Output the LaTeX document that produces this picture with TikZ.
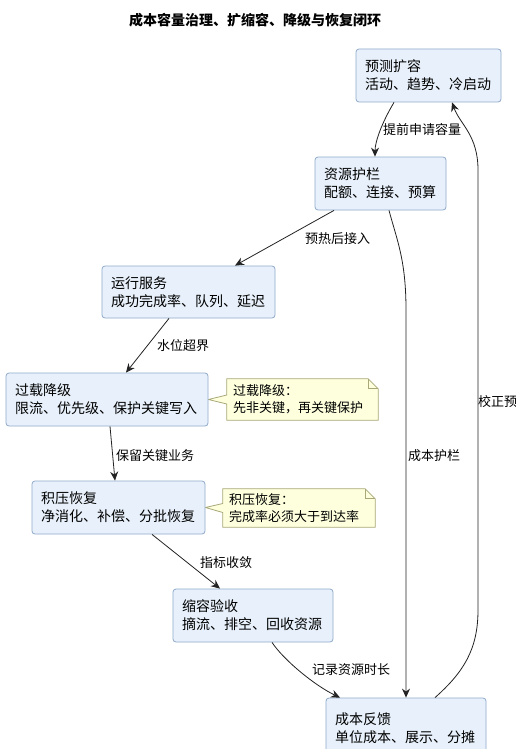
\documentclass[tikz,border=0pt]{standalone}
\usepackage{fontspec}
\setmainfont{Noto Sans CJK SC}
\usetikzlibrary{arrows.meta,calc,backgrounds}
\definecolor{boxfill}{HTML}{E8F1FB}
\definecolor{boxline}{HTML}{8FA9C9}
\definecolor{notefill}{HTML}{FEFFDD}
\definecolor{noteline}{HTML}{A8A878}
\definecolor{edgecol}{HTML}{222222}
\begin{document}
\begin{tikzpicture}[x=1pt,y=-1pt,
  box/.style={draw=boxline, fill=boxfill, rounded corners=3pt, line width=0.8pt,
    inner xsep=9pt, inner ysep=0pt, align=left, font=\fontsize{14}{18}\selectfont},
  notetext/.style={inner xsep=6pt, inner ysep=0pt, align=left, font=\fontsize{13}{17}\selectfont},
  noteshape/.style={draw=noteline, fill=notefill, line width=0.8pt},
  foldline/.style={draw=noteline, line width=0.8pt},
  elabel/.style={inner sep=0pt, anchor=west, font=\fontsize{13}{16}\selectfont},
  arr/.style={draw=edgecol, line width=0.8pt, -{Stealth[length=9pt,width=8pt,inset=3pt]}}
]
\useasboundingbox (0,0) rectangle (516,749);
\clip (0,0) rectangle (516,749);

\node[font=\bfseries\fontsize{14}{16}\selectfont, inner sep=0pt] (title) at (255,20) {成本容量治理、扩缩容、降级与恢复闭环};

\node[box, minimum width=145pt, minimum height=53pt, text width=127pt] (predict) at (428.5,75.5) {预测扩容\\活动、趋势、冷启动};
\node[box, minimum width=131pt, minimum height=53pt, text width=113pt] (guard) at (380.5,183.5) {资源护栏\\配额、连接、预算};
\node[box, minimum width=173pt, minimum height=52pt, text width=155pt] (run) at (188.5,292) {运行服务\\成功完成率、队列、延迟};
\node[box, minimum width=202pt, minimum height=53pt, text width=184pt] (degrade) at (107,399.5) {过载降级\\限流、优先级、保护关键写入};
\node[box, minimum width=173pt, minimum height=53pt, text width=155pt] (backlog) at (118.5,507.5) {积压恢复\\净消化、补偿、分批恢复};
\node[box, minimum width=160pt, minimum height=53pt, text width=142pt] (shrink) at (253,615.5) {缩容验收\\摘流、排空、回收资源};
\node[box, minimum width=160pt, minimum height=60pt, text width=142pt] (cost) at (406,728) {成本反馈\\单位成本、展示、分摊};

% notes
\node[notetext, minimum height=41pt, text width=139pt] (note1) at (302.5,399.5) {过载降级：\\先非关键，再关键保护};
\node[notetext, minimum height=38pt, text width=140pt] (note2) at (299,508) {积压恢复：\\完成率必须大于到达率};
\begin{scope}[on background layer]
\draw[noteshape] (note1.north west) -- ($(note1.north east)+(-10,0)$) -- ($(note1.north east)+(0,10)$)
  -- (note1.south east) -- (note1.south west) -- ($(note1.west)+(0,4.5)$) -- (degrade.east)
  -- ($(note1.west)+(0,-4.5)$) -- cycle;
\draw[noteshape] (note2.north west) -- ($(note2.north east)+(-10,0)$) -- ($(note2.north east)+(0,10)$)
  -- (note2.south east) -- (note2.south west) -- ($(note2.west)+(0,4.5)$) -- (backlog.east)
  -- ($(note2.west)+(0,-4.5)$) -- cycle;
\end{scope}
\draw[foldline] ($(note1.north east)+(-10,0)$) -- ($(note1.north east)+(-10,10)$) -- ($(note1.north east)+(0,10)$);
\draw[foldline] ($(note2.north east)+(-10,0)$) -- ($(note2.north east)+(-10,10)$) -- ($(note2.north east)+(0,10)$);

% helper coordinates
\coordinate (c1) at (478,610);
\coordinate (c2) at (478,170);
\coordinate (c3) at (406,310);

% edges
\draw[arr] ($(predict.south)+(-34.5,0)$) .. controls +(-12,20) and +(0,-15) .. ($(guard.north)+(-5.5,0)$);
\node[elabel] (l1) at (383,130) {提前申请容量};

\draw[arr] ($(guard.south)+(-46.5,0)$) -- ($(run.north)+(46.5,0)$);
\node[elabel] (l2) at (305,239) {预热后接入};

\draw[arr] ($(run.south)+(-19.5,0)$) -- ($(degrade.north)+(19,0)$);
\node[elabel] (l3) at (157,346) {水位超界};

\draw[arr] ($(degrade.south)+(3,0)$) -- ($(backlog.north)+(-3.5,0)$);
\node[elabel] (l4) at (116,456) {保留关键业务};

\draw[arr] ($(backlog.south)+(33.5,0)$) -- ($(shrink.north)+(-33,0)$);
\node[elabel] (l5) at (200,563) {指标收敛};

\draw[arr] ($(shrink.south)+(19,0)$) .. controls +(12,18) and +(-25,-12) .. ($(cost.north)+(-66,0)$);
\node[elabel] (l6) at (312,670) {记录资源时长};

\draw[arr] ($(guard.south)+(8.5,0)$) .. controls +(8,30) and +(0,-50) .. (c3) -- (cost.north);
\node[elabel] (l7) at (408,456) {成本护栏};

\draw[arr] ($(cost.north)+(29,0)$) .. controls +(28,-25) and +(0,40) .. (c1) -- (c2) .. controls +(0,-35) and +(8,22) .. ($(predict.south)+(23.5,0)$);
\node[elabel] (l8) at (478,402) {校正预};
\end{tikzpicture}
\end{document}
